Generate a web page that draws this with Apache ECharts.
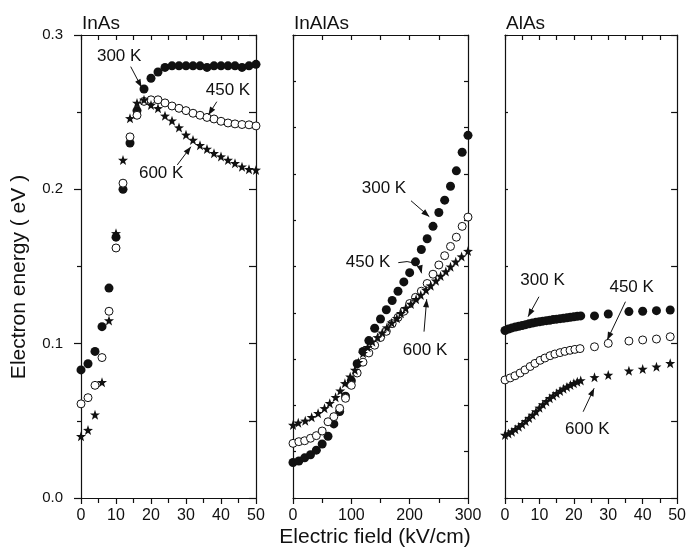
<!DOCTYPE html>
<html><head><meta charset="utf-8">
<script src="https://cdn.jsdelivr.net/npm/echarts@6/dist/echarts.min.js"></script>
<style>html,body{margin:0;padding:0;background:#fff}#c{width:689px;height:556px}</style>
</head><body><div id="c"></div>
<script>
// ---------- DATA ----------
const panelTitles = ['InAs', 'InAlAs', 'AlAs'];
const yTickLabels = ['0.0', '0.1', '0.2', '0.3'];

// InAs
const inasX = [0,2,4,6,8,10,12,14,16,18,20,22,24,26,28,30,32,34,36,38,40,42,44,46,48,50];
const inas300 = [0.083,0.087,0.095,0.111,0.136,0.169,0.200,0.230,0.251,0.265,0.272,0.276,0.279,0.280,0.280,0.280,0.280,0.280,0.279,0.280,0.280,0.280,0.280,0.279,0.280,0.281];
const inas450 = [0.061,0.065,0.073,0.091,0.121,0.162,0.204,0.234,0.248,0.257,0.258,0.258,0.256,0.254,0.2525,0.251,0.2493,0.248,0.2466,0.2456,0.2441,0.243,0.2424,0.242,0.2418,0.2411];
const inas600 = [0.040,0.044,0.054,0.075,0.115,0.1715,0.219,0.246,0.256,0.258,0.2547,0.2525,0.2476,0.2445,0.240,0.2353,0.232,0.2286,0.2262,0.2234,0.2212,0.219,0.2169,0.2147,0.213,0.2126];

// InAlAs
const inalasX = [0,10,20,30,40,50,60,70,80,90,100,110,120,130,140,150,160,170,180,190,200,210,220,230,240,250,260,270,280,290,300];
const inalas300 = [0.023,0.024,0.026,0.028,0.031,0.035,0.040,0.048,0.056,0.066,0.076,0.087,0.095,0.102,0.110,0.116,0.122,0.128,0.134,0.140,0.146,0.153,0.161,0.168,0.176,0.185,0.193,0.202,0.212,0.224,0.235];
const inalas450 = [0.0354,0.0365,0.0371,0.0387,0.0404,0.0434,0.0494,0.0527,0.0581,0.0646,0.073,0.081,0.088,0.094,0.099,0.104,0.108,0.113,0.117,0.121,0.126,0.130,0.134,0.139,0.145,0.151,0.157,0.163,0.169,0.176,0.182];
const inalasX600 = [0,9,21,32,43,54,63,73,81,89,98,106,112,120,128,136,145,153,161,169,178,185,193,202,211,219,228,236,245,253,262,270,279,289,300];
const inalas600 = [0.0473,0.0488,0.050,0.0523,0.0549,0.0581,0.0614,0.0653,0.0695,0.0743,0.0786,0.083,0.088,0.0938,0.0977,0.1013,0.1041,0.1071,0.1104,0.1136,0.1165,0.1197,0.123,0.1257,0.1288,0.1316,0.1348,0.1376,0.1408,0.1439,0.1467,0.1499,0.1531,0.1564,0.160];

// AlAs
const alasX300 = [0,1,2,3,4,5,6,7,8,9,10,11,12,13,14,15,16,17,18,19,20,21,22,26,30,36,40,44,48];
const alas300 = [0.1085,0.1095,0.1102,0.1108,0.1113,0.1118,0.1123,0.1129,0.1134,0.1138,0.1142,0.1146,0.1149,0.1152,0.1156,0.1159,0.1162,0.1165,0.1168,0.1171,0.1174,0.1177,0.118,0.118,0.1192,0.1208,0.121,0.1214,0.1218];
const alasX450 = [0,1.5,2.9,4.4,5.8,7.3,8.7,10.2,11.6,13.1,14.5,16,17.4,18.9,20.3,21.8,26,30,36,40,44,48];
const alas450 = [0.0765,0.0778,0.0792,0.0810,0.0830,0.0852,0.0872,0.0892,0.0907,0.0922,0.0933,0.0942,0.0950,0.0957,0.0963,0.0968,0.098,0.1002,0.1017,0.1024,0.103,0.1045];
const alasX600 = [0,1,2,3,4,5,6,7,8,9,10,11,12,13,14,15,16,17,18,19,20,21,22,26,30,36,40,44,48];
const alas600 = [0.0408,0.0418,0.0430,0.0445,0.0462,0.0478,0.0497,0.0518,0.0538,0.0561,0.0584,0.0606,0.0626,0.0646,0.0663,0.0678,0.0694,0.0708,0.0720,0.0732,0.0743,0.0753,0.0762,0.0782,0.0797,0.0825,0.0836,0.0851,0.0873];

// annotations (data coordinates of each panel)
const annotations = [
  {grid:0, label:'300 K', text:[10.9,0.2864], from:[14.2,0.2795], to:[17.3,0.2661]},
  {grid:0, label:'450 K', text:[42,0.2644], from:[38.8,0.2568], to:[36.4,0.2482]},
  {grid:0, label:'600 K', text:[22.9,0.2106], from:[27.5,0.2158], to:[31.4,0.2276]},
  {grid:1, label:'300 K', text:[156,0.2009], from:[202.3,0.1926], to:[233.7,0.1823]},
  {grid:1, label:'450 K', text:[128.6,0.1529], from:[180.5,0.1525], to:[220.6,0.1456], ctrl:[214,0.1555]},
  {grid:1, label:'600 K', text:[226.3,0.0959], from:[224.6,0.1078], to:[229.2,0.1288]},
  {grid:2, label:'300 K', text:[10.9,0.1413], from:[9.86,0.1304], to:[6.7,0.1175]},
  {grid:2, label:'450 K', text:[36.8,0.1367], from:[35,0.1272], to:[29.7,0.1024]},
  {grid:2, label:'600 K', text:[23.9,0.0447], from:[22.7,0.0559], to:[25.9,0.0711]}
];

// ---------- STYLE ----------
const FONT = "'Liberation Sans', Arial, Helvetica, sans-serif";
const INK = '#111111';
const STAR = 'path://M0,-10L2.35,-3.24L9.51,-3.09L3.8,1.24L5.88,8.09L0,4L-5.88,8.09L-3.8,1.24L-9.51,-3.09L-2.35,-3.24Z';
const zip = (xs, ys) => xs.map((x, i) => [x, ys[i]]);

const grids = [
  {left:81, top:35, width:175, height:463},
  {left:293, top:35, width:175, height:463},
  {left:505, top:35, width:174, height:463}
];
const axisLine = {show:true, onZero:false, lineStyle:{color:INK, width:1.2}};

function xBottom(g, max, interval) {
  return {type:'value', gridIndex:g, position:'bottom', min:0, max:max, interval:interval,
    axisLine:axisLine, splitLine:{show:false},
    axisTick:{show:true, inside:false, length:6, lineStyle:{color:INK, width:1.2}},
    minorTick:{show:true, splitNumber:2, length:5, lineStyle:{color:INK, width:1.2}},
    axisLabel:{show:true, margin:10, fontSize:16, fontFamily:FONT, color:INK}};
}
function xTop(g, max, interval, len) {
  return {type:'value', gridIndex:g, position:'top', min:0, max:max, interval:interval,
    axisLine:axisLine, splitLine:{show:false},
    axisTick:{show:true, inside:true, length:len, lineStyle:{color:INK, width:1.2}},
    axisLabel:{show:false}};
}
function yAxis(g, pos, interval, inside, len, labels) {
  return {type:'value', gridIndex:g, position:pos, min:0, max:0.3, interval:interval,
    axisLine:axisLine, splitLine:{show:false},
    axisTick:{show:true, inside:inside, length:len, lineStyle:{color:INK, width:1.2}},
    minorTick:{show:labels, splitNumber:2, length:4, lineStyle:{color:INK, width:1.2}},
    axisLabel:{show:labels, margin:18, fontSize:15, fontFamily:FONT, color:INK,
      formatter:(v) => yTickLabels[Math.round(v * 10)]}};
}

function filled(name, g, data, size) {
  return {name:name, type:'scatter', xAxisIndex:2*g, yAxisIndex:2*g, data:data,
    symbol:'circle', symbolSize:size, itemStyle:{color:INK, borderWidth:0, opacity:1}, silent:true, z:2};
}
function open(name, g, data, size) {
  return {name:name, type:'scatter', xAxisIndex:2*g, yAxisIndex:2*g, data:data,
    symbol:'circle', symbolSize:size, itemStyle:{color:'#fff', borderColor:INK, borderWidth:1, opacity:1}, silent:true, z:3};
}
function star(name, g, data, size) {
  return {name:name, type:'scatter', xAxisIndex:2*g, yAxisIndex:2*g, data:data,
    symbol:STAR, symbolSize:size, itemStyle:{color:INK, borderWidth:0, opacity:1}, silent:true, z:4};
}

const option = {
  animation:false,
  backgroundColor:'#fff',
  grid:grids,
  xAxis:[
    xBottom(0, 50, 10), xTop(0, 50, 5, 5),
    xBottom(1, 300, 100), xTop(1, 300, 50, 5),
    xBottom(2, 50, 10), xTop(2, 50, 5, 5)
  ],
  yAxis:[
    yAxis(0, 'left', 0.1, false, 7, true), yAxis(0, 'right', 0.05, true, 7, false),
    yAxis(1, 'left', 0.03, true, 3, false), yAxis(1, 'right', 0.03, true, 4, false),
    yAxis(2, 'left', 0.05, true, 3, false), yAxis(2, 'right', 0.05, true, 6, false)
  ],
  series:[
    filled('InAs 300 K', 0, zip(inasX, inas300), 9),
    open('InAs 450 K', 0, zip(inasX, inas450), 8),
    star('InAs 600 K', 0, zip(inasX, inas600), 10),
    filled('InAlAs 300 K', 1, zip(inalasX, inalas300), 9),
    open('InAlAs 450 K', 1, zip(inalasX, inalas450), 8),
    star('InAlAs 600 K', 1, zip(inalasX600, inalas600), 10),
    filled('AlAs 300 K', 2, zip(alasX300, alas300), 9),
    open('AlAs 450 K', 2, zip(alasX450, alas450), 8),
    star('AlAs 600 K', 2, zip(alasX600, alas600), 10)
  ]
};

const chart = echarts.init(document.getElementById('c'), null, {renderer:'canvas'});
chart.setOption(option);

// ---------- TEXT & ANNOTATIONS ----------
const graphics = [];
panelTitles.forEach((t, i) => {
  graphics.push({type:'text', x:grids[i].left + 1, y:33, silent:true,
    style:{text:t, font:'19px ' + FONT, fill:INK, align:'left', verticalAlign:'bottom'}});
});
graphics.push({type:'text', x:19, y:277, rotation:Math.PI / 2, silent:true,
  style:{text:'Electron energy ( eV )', font:'21px ' + FONT, fill:INK, align:'center', verticalAlign:'middle'}});
graphics.push({type:'text', x:375, y:537, silent:true,
  style:{text:'Electric field (kV/cm)', font:'21px ' + FONT, fill:INK, align:'center', verticalAlign:'middle'}});

function head(tip, fromPt) {
  const dx = tip[0] - fromPt[0], dy = tip[1] - fromPt[1];
  const L = Math.hypot(dx, dy) || 1, ux = dx / L, uy = dy / L;
  const hl = 8, hw = 3;
  const bx = tip[0] - ux * hl, by = tip[1] - uy * hl;
  return {type:'polygon', silent:true, z:10,
    shape:{points:[tip, [bx - uy * hw, by + ux * hw], [bx + uy * hw, by - ux * hw]]},
    style:{fill:INK}};
}

annotations.forEach(a => {
  const p = (v) => chart.convertToPixel({gridIndex:a.grid}, v);
  const t = p(a.text), f = p(a.from), e = p(a.to);
  graphics.push({type:'text', x:t[0], y:t[1], silent:true, z:10,
    style:{text:a.label, font:'17px ' + FONT, fill:INK, align:'center', verticalAlign:'middle'}});
  if (a.ctrl) {
    const c = p(a.ctrl);
    graphics.push({type:'bezierCurve', silent:true, z:10,
      shape:{x1:f[0], y1:f[1], x2:e[0], y2:e[1], cpx1:c[0], cpy1:c[1]},
      style:{stroke:INK, lineWidth:1, fill:null}});
    graphics.push(head(e, c));
  } else {
    graphics.push({type:'line', silent:true, z:10,
      shape:{x1:f[0], y1:f[1], x2:e[0], y2:e[1]},
      style:{stroke:INK, lineWidth:1}});
    graphics.push(head(e, f));
  }
});
chart.setOption({graphic:graphics});
</script>
</body></html>
